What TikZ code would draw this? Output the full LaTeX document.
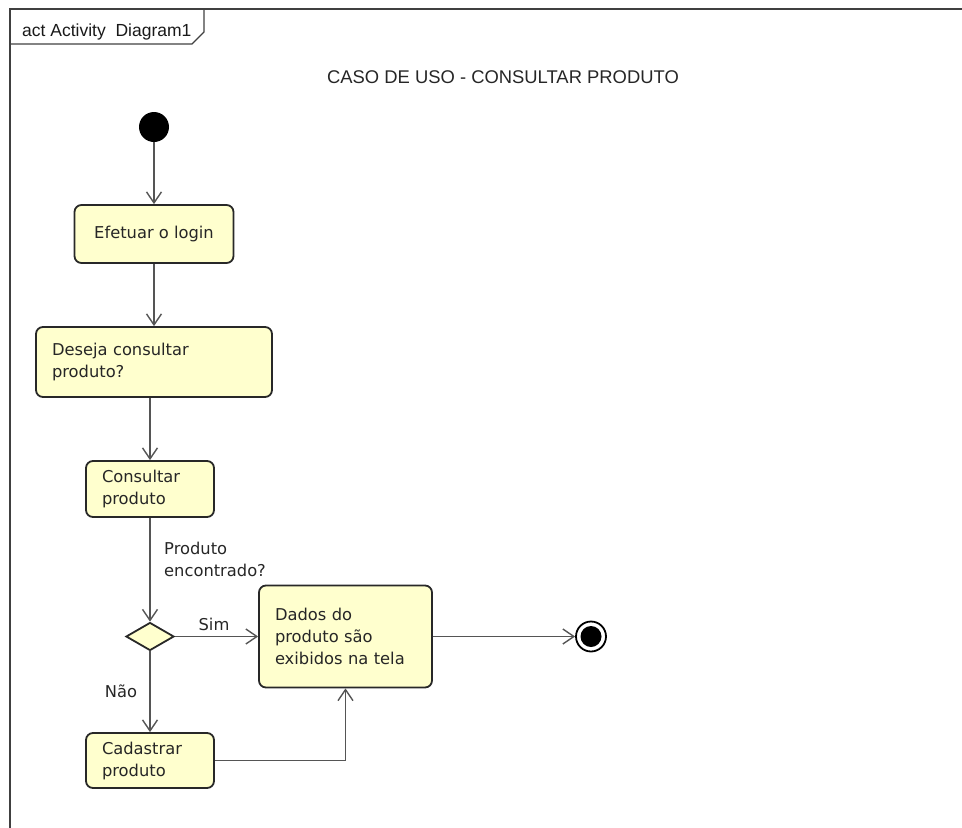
\documentclass[tikz,border=0pt]{standalone}
\usepackage{fontspec}
\setmainfont{DejaVu Sans}
\newfontfamily\arialfont{Liberation Sans}
\usetikzlibrary{arrows.meta,shapes.geometric}
\definecolor{amarelo}{RGB}{255,255,206}
\definecolor{contorno}{RGB}{40,40,40}
\definecolor{seta}{RGB}{85,85,85}

\begin{document}
\begin{tikzpicture}[x=1pt,y=-1pt,
  acao/.style={draw=contorno, line width=1.8pt, fill=amarelo, rounded corners=7pt,
    inner xsep=16pt, inner ysep=0pt, align=left,
    font=\fontsize{16.3}{22}\selectfont, text=black!85},
  decisao/.style={diamond, draw=contorno, line width=1.8pt, fill=amarelo,
    minimum width=48pt, minimum height=28pt, inner sep=0pt},
  inicio/.style={circle, fill=black, minimum size=30pt, inner sep=0pt},
  fim/.style={circle, draw=black, line width=1.8pt, minimum size=30pt, inner sep=0pt,
    path picture={\fill[black] (path picture bounding box.center) circle (10.5pt);}},
  fluxo/.style={draw=seta, line width=1.4pt,
    -{Straight Barb[length=11pt,width=15pt,line width=1.4pt]}},
  rotulo/.style={inner sep=0pt, align=left, text=black!85,
    font=\fontsize{16.3}{22}\selectfont},
  moldura/.style={draw=black!75, line width=2pt},
]
  \useasboundingbox (0,0) rectangle (962,828);
  % frame
  \draw[moldura] (962,9) -- (10,9) -- (10,828);
  \draw[draw=black!75, line width=1.4pt] (204,9) -- (204,32) -- (192,44) -- (10,44);
  \node[anchor=base west, inner sep=0pt, text=black!90,
    font=\arialfont\fontsize{17.5}{20}\selectfont] (quadro) at (22,36) {act Activity\ \ Diagram1};
  \node[inner sep=0pt, text=black!85,
    font=\arialfont\fontsize{18.4}{22}\selectfont] (titulo) at (503,77) {CASO DE USO - CONSULTAR PRODUTO};

  \node[inicio] (ini) at (154,127) {};
  \node[acao, minimum width=159pt, minimum height=58pt, align=center] (login) at (154,234) {Efetuar o login};
  \node[acao, text width=204pt, minimum height=70pt] (deseja) at (154,362) {Deseja consultar\\produto?};
  \node[acao, text width=96pt, minimum height=56pt] (consultar) at (150,489) {Consultar\\produto};
  \node[decisao] (dec) at (150,636.5) {};
  \node[acao, text width=141pt, minimum height=102pt] (dados) at (345.5,636.5) {Dados do\\produto são\\exibidos na tela};
  \node[acao, text width=96pt, minimum height=55pt] (cadastrar) at (150,760.5) {Cadastrar\\produto};
  \node[fim] (fim) at (591,636.5) {};

  \node[rotulo, anchor=west] (encontrado) at (164,559) {Produto\\encontrado?};
  \node[rotulo] (sim) at (214,624) {Sim};
  \node[rotulo] (nao) at (121,691) {Não};

  \draw[fluxo] (ini) -- (login);
  \draw[fluxo] (login) -- (deseja);
  \draw[fluxo] (deseja.south -| consultar) -- (consultar);
  \draw[fluxo] (consultar) -- (dec);
  \draw[fluxo] (dec) -- (dados);
  \draw[fluxo] (dec) -- (cadastrar);
  \draw[fluxo] (dados) -- (fim);
  \draw[fluxo] (cadastrar) -| (dados);
\end{tikzpicture}
\end{document}
